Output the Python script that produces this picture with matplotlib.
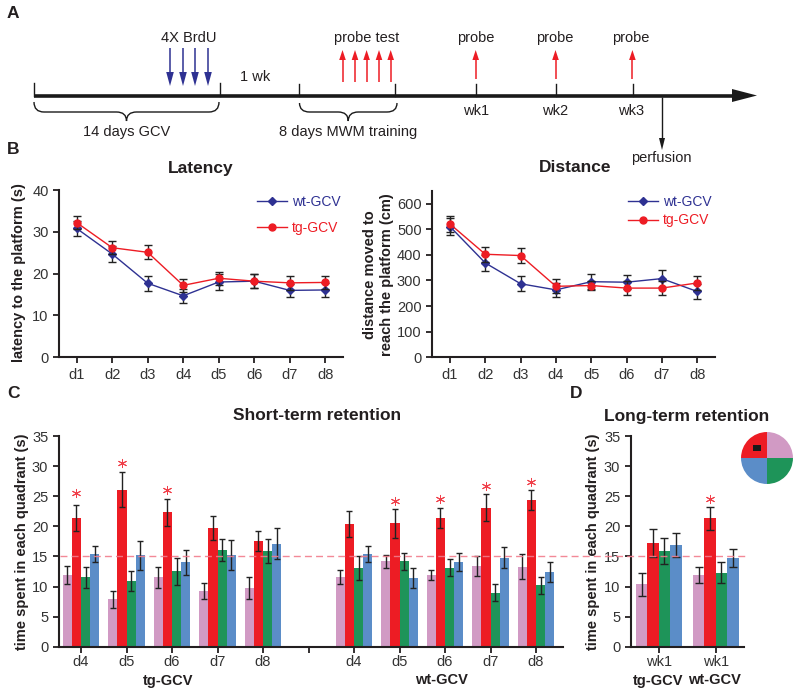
import matplotlib
matplotlib.use("Agg")
import matplotlib.pyplot as plt
import numpy as np
from matplotlib.path import Path
from matplotlib.patches import PathPatch, Polygon

plt.rcParams['font.family'] = ['Liberation Sans', 'DejaVu Sans']

W, H = 800, 695
TXT = '#231F20'
NAVY = '#2E3192'
RED = '#ED1C24'
PINK = '#D19AC4'
GREEN = '#1E9459'
BLUE = '#5B8DC8'
QCOL = [PINK, RED, GREEN, BLUE]

days = ['d1', 'd2', 'd3', 'd4', 'd5', 'd6', 'd7', 'd8']
lat_wt = [30.8, 24.7, 17.7, 14.7, 18.0, 18.2, 16.0, 16.1]
lat_wt_err = [1.8, 1.8, 1.8, 1.6, 1.8, 1.6, 1.6, 1.6]
lat_tg = [32.2, 26.2, 25.1, 17.2, 18.9, 18.2, 17.8, 17.9]
lat_tg_err = [1.6, 1.6, 1.7, 1.5, 1.5, 1.7, 1.7, 1.5]
dist_wt = [510, 368, 287, 263, 295, 293, 307, 257]
dist_wt_err = [32, 32, 30, 28, 30, 28, 32, 30]
dist_tg = [520, 402, 397, 277, 280, 270, 270, 290]
dist_tg_err = [30, 30, 30, 28, 18, 27, 28, 28]

short_days = ['d4', 'd5', 'd6', 'd7', 'd8', '', 'd4', 'd5', 'd6', 'd7', 'd8']
tg_pink = [11.9, 7.9, 11.5, 9.2, 9.7]
tg_pink_err = [1.5, 1.4, 1.8, 1.3, 1.8]
tg_red = [21.4, 26.1, 22.3, 19.7, 17.6]
tg_red_err = [2.1, 2.9, 2.3, 2.0, 1.7]
tg_green = [11.5, 10.9, 12.5, 16.1, 15.9]
tg_green_err = [1.8, 1.6, 2.2, 1.8, 2.0]
tg_blue = [15.4, 15.2, 14.0, 15.3, 17.1]
tg_blue_err = [1.4, 2.4, 2.1, 2.5, 2.6]
wt_pink = [11.6, 14.2, 11.9, 13.4, 13.3]
wt_pink_err = [1.2, 1.1, 0.9, 1.7, 2.1]
wt_red = [20.4, 20.5, 21.4, 23.1, 24.4]
wt_red_err = [2.1, 2.4, 1.7, 2.3, 1.7]
wt_green = [13.0, 14.2, 13.1, 9.0, 10.2]
wt_green_err = [2.0, 1.4, 1.4, 1.4, 1.4]
wt_blue = [15.4, 11.4, 14.0, 14.8, 12.4]
wt_blue_err = [1.4, 1.7, 1.5, 1.8, 1.6]
tg_stars = [25.6, 30.5, 26.0, None, None]
wt_stars = [None, 24.2, 24.5, 26.7, 27.4]

long_labels = ['wk1', 'wk1']
long_tg = [10.4, 17.2, 15.9, 16.9]
long_tg_err = [1.9, 2.3, 2.1, 2.0]
long_wt = [11.9, 21.3, 12.3, 14.7]
long_wt_err = [1.4, 1.9, 1.8, 1.5]
long_stars = [None, 24.5]
pie_shares = [1, 1, 1, 1]

fig = plt.figure(figsize=(W / 100, H / 100), dpi=100, facecolor='white')


def px_axes(x0, x1, ytop, ybot, pad=4):
    a = fig.add_axes([x0 / W, 1 - ybot / H, (x1 - x0) / W, (ybot - ytop) / H])
    a.patch.set_alpha(0)
    for s in ('top', 'right'):
        a.spines[s].set_visible(False)
    for s in ('left', 'bottom'):
        a.spines[s].set_linewidth(1.5)
        a.spines[s].set_color(TXT)
    a.tick_params(width=1.3, length=4, labelsize=10.5, colors=TXT, labelcolor='#333333', pad=pad)
    return a


def line_panel(a, wt, wte, tg, tge, ymax, yticks):
    x = np.arange(len(days))
    a.errorbar(x, wt, yerr=wte, color=NAVY, ecolor='#222222', elinewidth=1, capsize=3.2, capthick=1,
               lw=1.0, marker='D', ms=4.5, mfc=NAVY, mec=NAVY, label='wt-GCV', zorder=3)
    a.errorbar(x, tg, yerr=tge, color=RED, ecolor='#222222', elinewidth=1, capsize=3.2, capthick=1,
               lw=1.0, marker='o', ms=5, mfc=RED, mec=RED, label='tg-GCV', zorder=4)
    a.set_xticks(x, days)
    a.set_yticks(yticks)
    a.set_ylim(0, ymax)


ax1 = px_axes(59, 343, 190, 357.3, pad=3.5)
line_panel(ax1, lat_wt, lat_wt_err, lat_tg, lat_tg_err, 40, [0, 10, 20, 30, 40])
ax1.set_xlim((59 - 76.7) / 35.5, (343 - 76.7) / 35.5)

ax2 = px_axes(432, 715, 190.7, 357.3, pad=3.5)
line_panel(ax2, dist_wt, dist_wt_err, dist_tg, dist_tg_err, 650, [0, 100, 200, 300, 400, 500, 600])
ax2.set_xlim((432 - 450) / 35.3, (715 - 450) / 35.3)

for a, yc, sp, x0 in ((ax1, 215, 0.85, 257), (ax2, 211, 0.35, 628)):
    h, l = a.get_legend_handles_labels()
    h = [hh[0] for hh in h]
    leg = a.legend(h, l, loc='center left', frameon=False, fontsize=10,
                   bbox_to_anchor=(x0 / W, 1 - yc / H), bbox_transform=fig.transFigure,
                   labelspacing=sp, handlelength=2.15, handletextpad=0.35, borderpad=0, borderaxespad=0)
    for t, c in zip(leg.get_texts(), (NAVY, RED)):
        t.set_color(c)

ax3 = px_axes(58.7, 562.7, 436, 646.7, pad=2)
bw = 0.2
tg_sets = [(tg_pink, tg_pink_err), (tg_red, tg_red_err), (tg_green, tg_green_err), (tg_blue, tg_blue_err)]
wt_sets = [(wt_pink, wt_pink_err), (wt_red, wt_red_err), (wt_green, wt_green_err), (wt_blue, wt_blue_err)]
for base, sets, stars in ((0, tg_sets, tg_stars), (6, wt_sets, wt_stars)):
    centers = base + np.arange(5)
    for i, (v, e) in enumerate(sets):
        ax3.bar(centers + (i - 1.5) * bw, v, bw, color=QCOL[i], yerr=e,
                error_kw=dict(ecolor='#222222', elinewidth=1, capsize=2.4, capthick=1))
    for c, s in zip(centers, stars):
        if s is not None:
            ax3.plot(c - 0.5 * bw, s, marker=(6, 2, 0), ms=6.5, mew=0.7, color='#F0404A', ls='none', clip_on=False)
ax3.set_xticks(np.arange(len(short_days)), short_days)
ax3.set_yticks(np.arange(0, 36, 5))
ax3.tick_params(axis='y', pad=3.5)
ax3.set_ylim(0, 35)
ax3.set_xlim((58.7 - 81) / 45.5, (562.7 - 81) / 45.5)

ax4 = px_axes(630.7, 744, 436, 646.7, pad=2)
for base, (v, e), s in ((0, (long_tg, long_tg_err), long_stars[0]), (1, (long_wt, long_wt_err), long_stars[1])):
    for i in range(4):
        ax4.bar(base + (i - 1.5) * bw, v[i], bw, color=QCOL[i], yerr=e[i],
                error_kw=dict(ecolor='#222222', elinewidth=1, capsize=3, capthick=1))
    if s is not None:
        ax4.plot(base - 0.5 * bw, s, marker=(6, 2, 0), ms=6.5, mew=0.7, color='#F0404A', ls='none', clip_on=False)
ax4.set_xticks([0, 1], long_labels)
ax4.set_yticks(np.arange(0, 36, 5))
ax4.tick_params(axis='y', pad=3.5)
ax4.set_ylim(0, 35)
ax4.set_xlim((630.7 - 658.7) / 57, (744 - 658.7) / 57)

# Quadrant pie
axp = fig.add_axes([(767 - 26.5) / W, 1 - (458 + 26.5) / H, 53 / W, 53 / H])
axp.pie(pie_shares, colors=[RED, BLUE, GREEN, PINK], startangle=90, radius=1.0,
        wedgeprops=dict(linewidth=0))
axp.set_xlim(-1.02, 1.02)
axp.set_ylim(-1.02, 1.02)

# Overlay in pixel coordinates for the schematic and the free text
ov = fig.add_axes([0, 0, 1, 1], zorder=10)
ov.set_xlim(0, W)
ov.set_ylim(H, 0)
ov.axis('off')
ov.patch.set_alpha(0)


def T(x, y, s, size=10.5, weight='normal', rot=0, color=TXT, **k):
    ov.text(x, y, s, fontsize=size, fontweight=weight, rotation=rot, color=color,
            ha='center', va='center', **k)


# chance line
y15 = 646.7 - 15 * (646.7 - 436) / 35
ov.plot([60, 745], [y15, y15], color='#F27C8C', lw=1.0, ls=(0, (5, 3)), alpha=0.9)
ov.add_patch(plt.Rectangle((752.5, 445), 8, 6, color='#1a1a1a', lw=0))

# timeline
LY = 95.5
ov.plot([34, 735], [LY, LY], color='#1a1a1a', lw=2.6, solid_capstyle='butt')
ov.add_patch(Polygon([[732, LY - 6.5], [757, LY], [732, LY + 6.5]], closed=True, color='#1a1a1a', lw=0))
for x, top in [(34, 83), (219.5, 83), (299, 84), (395, 84), (476, 84), (555.5, 84), (633, 84)]:
    ov.plot([x, x], [top, LY], color='#1a1a1a', lw=1.0)


def arrow(x, y0, y1, col, hw, hl, lw):
    sgn = 1 if y1 > y0 else -1
    ov.plot([x, x], [y0, y1 - sgn * hl], color=col, lw=lw, solid_capstyle='butt')
    ov.add_patch(Polygon([[x - hw, y1 - sgn * hl], [x + hw, y1 - sgn * hl], [x, y1]], closed=True, color=col, lw=0))


for x in (170, 183, 195, 208):
    arrow(x, 48, 86, NAVY, 3.8, 14, 1.1)
for x in (342.5, 355, 366.6, 379, 390.7):
    arrow(x, 82, 50, RED, 3.3, 10, 1.1)
for x in (475.7, 555.5, 632.4):
    arrow(x, 79, 50, RED, 3.3, 10, 1.1)
arrow(662, 97, 150, '#1a1a1a', 3, 12, 1.0)


def brace(x0, x1, y0, y1, ytip):
    xm = (x0 + x1) / 2
    r = 10
    verts = [(x0, y0), (x0, y1), (x0 + r, y1), (xm - r, y1), (xm, y1), (xm, ytip),
             (xm, y1), (xm + r, y1), (x1 - r, y1), (x1, y1), (x1, y0)]
    codes = [Path.MOVETO, Path.CURVE3, Path.CURVE3, Path.LINETO, Path.CURVE3, Path.CURVE3,
             Path.CURVE3, Path.CURVE3, Path.LINETO, Path.CURVE3, Path.CURVE3]
    ov.add_patch(PathPatch(Path(verts, codes), fc='none', ec='#1a1a1a', lw=1.0))


brace(34, 219, 102, 112, 121)
brace(299.5, 397, 103, 112, 121)

T(189, 38, '4X BrdU', 10.5)
T(366.6, 38, 'probe test', 10.5)
T(476, 38, 'probe', 10.5)
T(554.5, 38, 'probe', 10.5)
T(631, 38, 'probe', 10.5)
T(255.5, 77, '1 wk', 10.5)
T(476, 110.7, 'wk1', 10.5)
T(555.5, 110.7, 'wk2', 10.5)
T(631, 110.7, 'wk3', 10.5)
T(126.5, 131.7, '14 days GCV', 10.5)
T(347.7, 131.7, '8 days MWM training', 10.5)
T(661.5, 158, 'perfusion', 10.5)

T(13, 14, 'A', 12.5, 'bold')
T(13, 150, 'B', 12.5, 'bold')
T(13, 393, 'C', 12.5, 'bold')
T(576, 393, 'D', 12.5, 'bold')

T(201, 168, 'Latency', 12.5, 'bold')
T(575.5, 168, 'Distance', 12.5, 'bold')
T(317, 415, 'Short-term retention', 12.5, 'bold')
T(686.7, 416, 'Long-term retention', 12.5, 'bold')

T(19, 273, 'latency to the platform (s)', 10.5, 'bold', 90)
T(378.5, 275, 'distance moved to\nreach the platform (cm)', 10.5, 'bold', 90, linespacing=1.3, multialignment='center')
T(22, 542, 'time spent in each quadrant (s)', 10.5, 'bold', 90)
T(593, 542, 'time spent in each quadrant (s)', 10.5, 'bold', 90)

T(168, 680.5, 'tg-GCV', 10.5, 'bold')
T(441, 680.5, 'wt-GCV', 10.5, 'bold')
T(657.7, 680.5, 'tg-GCV', 10.5, 'bold')
T(714, 680.5, 'wt-GCV', 10.5, 'bold')

fig.savefig('out.png', dpi=100)
